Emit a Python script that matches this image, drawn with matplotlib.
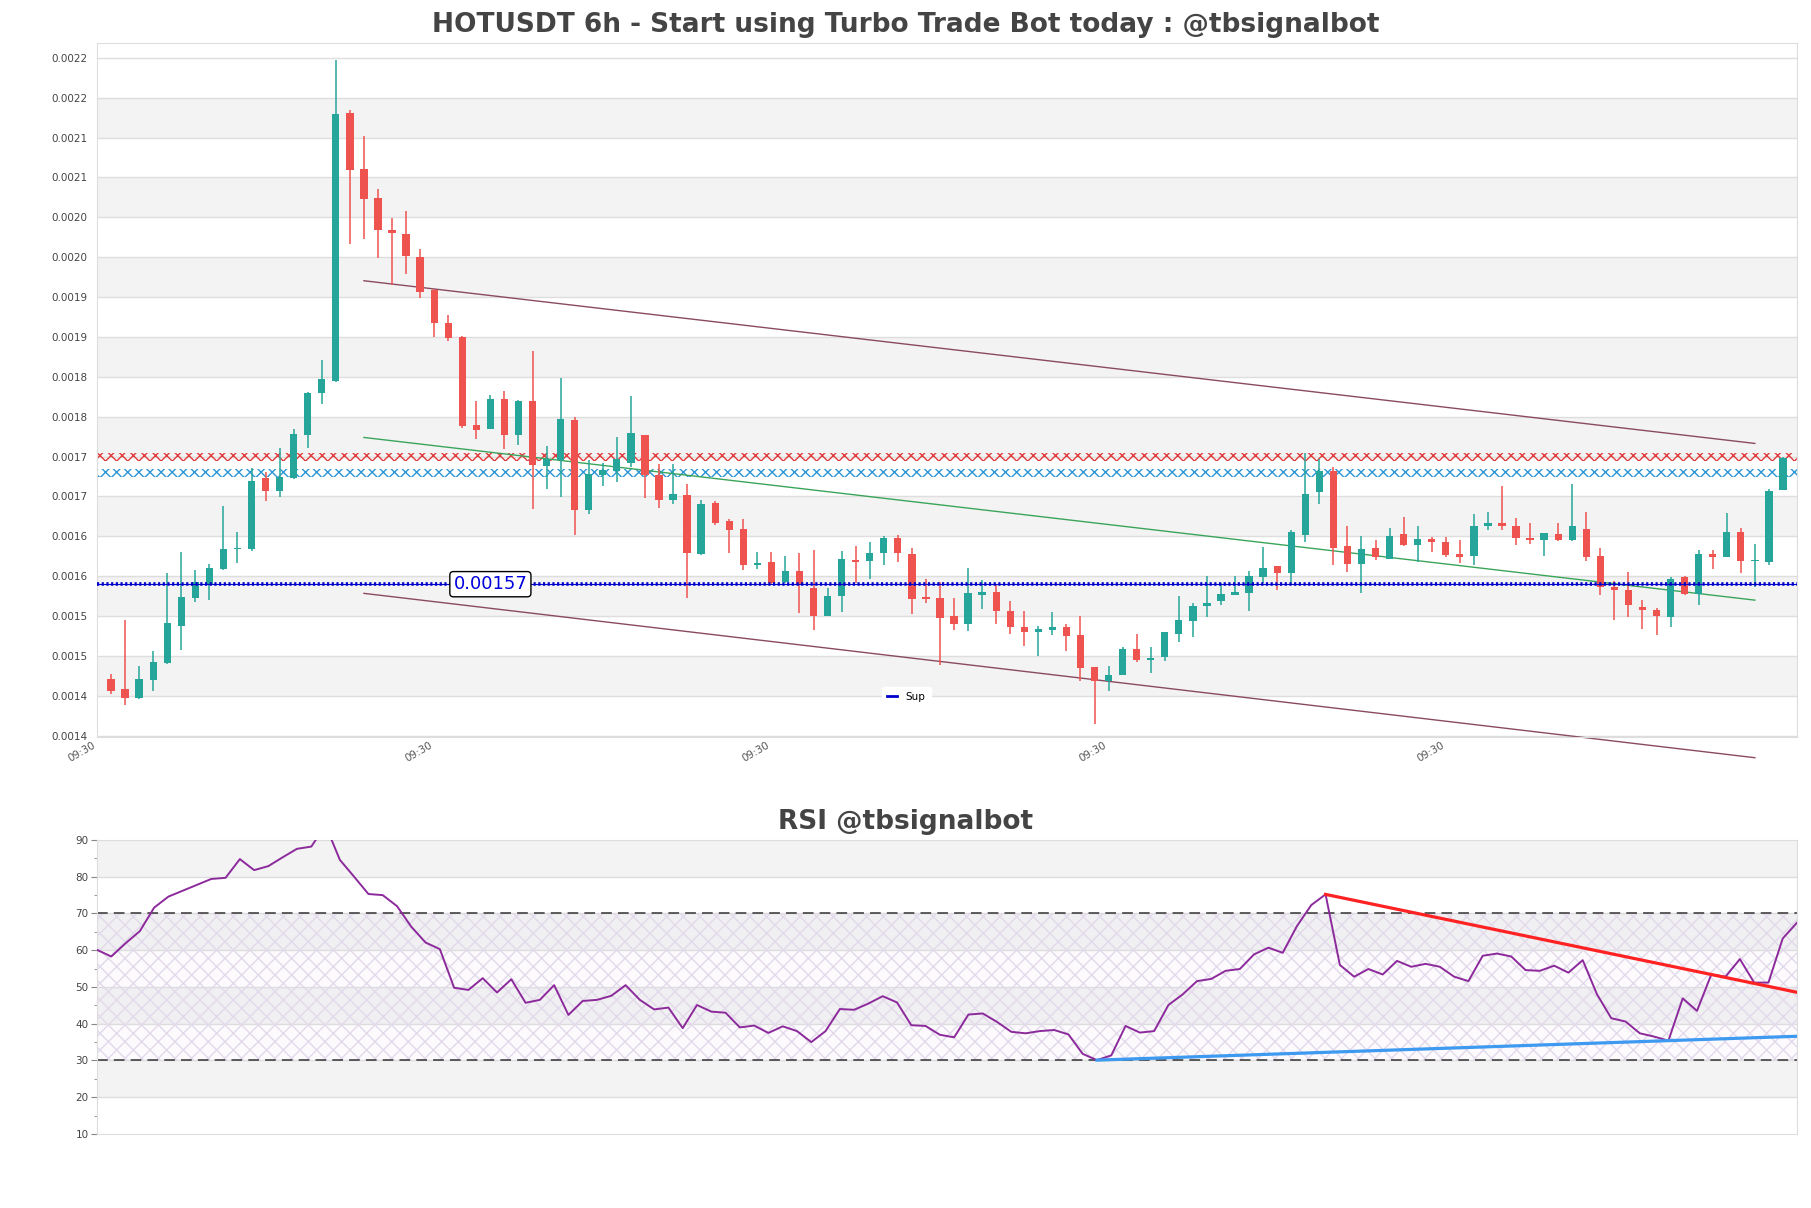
import numpy as np
import matplotlib.pyplot as plt
from matplotlib.lines import Line2D

# OHLC, 6h candles (HOTUSDT)
opens = [0.0014514, 0.0014381, 0.0014279, 0.0014504, 0.0014707, 0.0015178, 0.0015526, 0.0015708, 0.0015890, 0.0016136,
         0.0016147, 0.0017030, 0.0016870, 0.0017036, 0.0017566, 0.0018101, 0.0018246, 0.0021613, 0.0020901, 0.0020537,
         0.0020141, 0.0020090, 0.0019800, 0.0019390, 0.0018970, 0.0018795, 0.0017700, 0.0017645, 0.0018025, 0.0017570,
         0.0017995, 0.0017185, 0.0017255, 0.0017755, 0.0016630, 0.0017075, 0.0017115, 0.0017215, 0.0017575, 0.0017065,
         0.0016755, 0.0016815, 0.0016080, 0.0016720, 0.0016495, 0.0016390, 0.0015945, 0.0015980, 0.0015730, 0.0015870,
         0.0015655, 0.0015305, 0.0015555, 0.0016005, 0.0015985, 0.0016085, 0.0016280, 0.0016080, 0.0015545, 0.0015530,
         0.0015295, 0.0015195, 0.0015570, 0.0015600, 0.0015360, 0.0015165, 0.0015105, 0.0015120, 0.0015165, 0.0015065,
         0.0014660, 0.0014485, 0.0014565, 0.0014890, 0.0014755, 0.0014785, 0.0015070, 0.0015235, 0.0015425, 0.0015485,
         0.0015570, 0.0015595, 0.0015795, 0.0015925, 0.0015845, 0.0016320, 0.0016850, 0.0017120, 0.0016185, 0.0015955,
         0.0016155, 0.0016020, 0.0016330, 0.0016195, 0.0016265, 0.0016235, 0.0016075, 0.0016050, 0.0016435, 0.0016465,
         0.0016435, 0.0016280, 0.0016255, 0.0016330, 0.0016255, 0.0016390, 0.0016050, 0.0015670, 0.0015625, 0.0015420,
         0.0015375, 0.0015290, 0.0015785, 0.0015580, 0.0016075, 0.0016035, 0.0016350, 0.0015990, 0.0015975, 0.0016885]
highs = [0.0014568, 0.0015253, 0.0014675, 0.0014862, 0.0015837, 0.0016099, 0.0015879, 0.0015949, 0.0016677, 0.0016351,
         0.0017154, 0.0017105, 0.0017411, 0.0017651, 0.0018112, 0.0018508, 0.0022271, 0.0021650, 0.0021324, 0.0020660,
         0.0020291, 0.0020380, 0.0019900, 0.0019400, 0.0019075, 0.0018815, 0.0017995, 0.0018070, 0.0018120, 0.0018015,
         0.0018620, 0.0017430, 0.0018290, 0.0017800, 0.0017255, 0.0017220, 0.0017545, 0.0018055, 0.0017575, 0.0017210,
         0.0017210, 0.0016955, 0.0016750, 0.0016740, 0.0016520, 0.0016515, 0.0016105, 0.0016105, 0.0016050, 0.0016090,
         0.0016125, 0.0015655, 0.0016120, 0.0016185, 0.0016230, 0.0016310, 0.0016315, 0.0016155, 0.0015770, 0.0015730,
         0.0015525, 0.0015905, 0.0015755, 0.0015705, 0.0015485, 0.0015360, 0.0015180, 0.0015350, 0.0015195, 0.0015300,
         0.0014660, 0.0014670, 0.0014915, 0.0015075, 0.0014910, 0.0015100, 0.0015550, 0.0015465, 0.0015800, 0.0015715,
         0.0015800, 0.0015860, 0.0016165, 0.0015925, 0.0016380, 0.0017345, 0.0017270, 0.0017165, 0.0016425, 0.0016300,
         0.0016250, 0.0016405, 0.0016540, 0.0016425, 0.0016290, 0.0016290, 0.0016250, 0.0016585, 0.0016605, 0.0016925,
         0.0016535, 0.0016465, 0.0016340, 0.0016465, 0.0016955, 0.0016610, 0.0016155, 0.0015735, 0.0015850, 0.0015505,
         0.0015400, 0.0015790, 0.0015805, 0.0016125, 0.0016130, 0.0016590, 0.0016405, 0.0016205, 0.0016890, 0.0017290]
lows = [0.0014322, 0.0014188, 0.0014257, 0.0014359, 0.0014696, 0.0014878, 0.0015478, 0.0015505, 0.0015879, 0.0015970,
        0.0016110, 0.0016741, 0.0016795, 0.0017025, 0.0017405, 0.0017962, 0.0018230, 0.0019964, 0.0020028, 0.0019793,
        0.0019455, 0.0019590, 0.0019290, 0.0018800, 0.0018750, 0.0017660, 0.0017520, 0.0017640, 0.0017390, 0.0017440,
        0.0016640, 0.0016890, 0.0016795, 0.0016315, 0.0016580, 0.0016935, 0.0016985, 0.0017170, 0.0016780, 0.0016650,
        0.0016705, 0.0015530, 0.0016070, 0.0016445, 0.0016090, 0.0015880, 0.0015895, 0.0015705, 0.0015715, 0.0015340,
        0.0015120, 0.0015295, 0.0015350, 0.0015715, 0.0015765, 0.0015945, 0.0015980, 0.0015325, 0.0015465, 0.0014685,
        0.0015130, 0.0015110, 0.0015395, 0.0015200, 0.0015070, 0.0014920, 0.0014795, 0.0015060, 0.0014860, 0.0014485,
        0.0013950, 0.0014360, 0.0014560, 0.0014720, 0.0014585, 0.0014740, 0.0014970, 0.0015035, 0.0015285, 0.0015435,
        0.0015560, 0.0015360, 0.0015715, 0.0015630, 0.0015685, 0.0016225, 0.0016710, 0.0015945, 0.0015850, 0.0015595,
        0.0016000, 0.0016015, 0.0016175, 0.0015975, 0.0016100, 0.0016035, 0.0015965, 0.0015935, 0.0016380, 0.0016380,
        0.0016195, 0.0016205, 0.0016055, 0.0016245, 0.0016245, 0.0015985, 0.0015560, 0.0015255, 0.0015285, 0.0015140,
        0.0015060, 0.0015160, 0.0015560, 0.0015440, 0.0015895, 0.0016035, 0.0015840, 0.0015670, 0.0015945, 0.0016885]
closes = [0.0014364, 0.0014279, 0.0014509, 0.0014723, 0.0015210, 0.0015537, 0.0015724, 0.0015901, 0.0016142, 0.0016158,
          0.0016993, 0.0016870, 0.0017041, 0.0017582, 0.0018101, 0.0018267, 0.0021602, 0.0020890, 0.0020531, 0.0020141,
          0.0020103, 0.0019810, 0.0019365, 0.0018970, 0.0018790, 0.0017680, 0.0017630, 0.0018025, 0.0017570, 0.0017995,
          0.0017190, 0.0017275, 0.0017770, 0.0016630, 0.0017085, 0.0017135, 0.0017265, 0.0017600, 0.0017075, 0.0016755,
          0.0016825, 0.0016085, 0.0016710, 0.0016465, 0.0016385, 0.0015945, 0.0015965, 0.0015715, 0.0015870, 0.0015685,
          0.0015305, 0.0015550, 0.0016010, 0.0015975, 0.0016090, 0.0016285, 0.0016085, 0.0015520, 0.0015510, 0.0015275,
          0.0015195, 0.0015590, 0.0015600, 0.0015370, 0.0015160, 0.0015105, 0.0015135, 0.0015165, 0.0015055, 0.0014655,
          0.0014490, 0.0014560, 0.0014890, 0.0014755, 0.0014775, 0.0015100, 0.0015250, 0.0015425, 0.0015460, 0.0015575,
          0.0015600, 0.0015800, 0.0015900, 0.0015845, 0.0016350, 0.0016830, 0.0017120, 0.0016160, 0.0015955, 0.0016135,
          0.0016035, 0.0016300, 0.0016195, 0.0016265, 0.0016225, 0.0016070, 0.0016035, 0.0016435, 0.0016465, 0.0016435,
          0.0016285, 0.0016260, 0.0016340, 0.0016255, 0.0016425, 0.0016045, 0.0015670, 0.0015630, 0.0015435, 0.0015380,
          0.0015305, 0.0015760, 0.0015580, 0.0016075, 0.0016035, 0.0016355, 0.0015995, 0.0016000, 0.0016870, 0.0017280]

rsi = [60.1, 58.3, 61.9, 65.2, 71.6, 74.6, 76.2, 77.8, 79.4, 79.7, 84.8, 81.8, 82.9, 85.3, 87.6, 88.2,
       94.0, 84.6, 80.0, 75.3, 75.0, 72.0, 66.4, 62.1, 60.3, 49.8, 49.2, 52.4, 48.5, 52.1, 45.7, 46.5,
       50.5, 42.4, 46.2, 46.5, 47.6, 50.5, 46.5, 43.9, 44.4, 38.8,
       45.1, 43.3, 43.0, 39.0, 39.5, 37.5, 39.3, 38.0, 35.0, 38.0, 44.0, 43.8, 45.5, 47.5, 45.8, 39.6,
       39.4, 37.0, 36.3, 42.5, 42.8, 40.5, 37.8, 37.4, 38.0, 38.3, 37.1, 31.8, 30.1, 31.4, 39.4, 37.6, 38.0,
       45.1, 48.0, 51.6, 52.2, 54.4, 54.9, 58.9, 60.7, 59.3, 66.6, 72.3, 75.2, 56.0, 52.8, 54.9, 53.4,
       57.1, 55.5, 56.3, 55.5, 52.8, 51.6, 58.5, 59.1, 58.3, 54.6, 54.4, 55.8, 53.9, 57.3, 48.0, 41.5,
       40.6, 37.4, 36.5, 35.4, 46.9, 43.5, 53.4, 52.8, 57.6, 51.2, 51.2, 63.2, 67.5]

# levels / trend lines
sup_level = 0.00157
res_band_red = (0.001725, 0.001735)
res_band_blue = (0.001705, 0.001715)
chan_x = [19, 118]
chan_upper = [0.0019505, 0.0017465]
chan_mid = [0.001754, 0.00155]
chan_lower = [0.0015585, 0.0013524]
rsi_res_pivots = [86, 113]
rsi_sup_pivots = [70, 110]
xtick_pos = [0, 24, 48, 72, 96]
xtick_lab = ['09:30'] * 5

opens = np.array(opens); highs = np.array(highs)
lows = np.array(lows); closes = np.array(closes)
rsi = np.array(rsi)
x = np.arange(1, len(opens) + 1)

plt.rcParams['hatch.linewidth'] = 1.0

fig = plt.figure(figsize=(18.11, 12.08), dpi=100)
ax = fig.add_axes([0.05356, 0.38965, 0.93871, 0.5750])
ax2 = fig.add_axes([0.05356, 0.06126, 0.93871, 0.24338])

# ---- price panel ----
yt = 0.00138 + 0.00005 * np.arange(18)
for k in range(1, 17, 2):
    ax.axhspan(yt[k], yt[k + 1], color='#f3f3f3', lw=0, zorder=0)
for t in yt:
    ax.axhline(t, color='#dedede', lw=1, zorder=0.5)

ax.axhspan(*res_band_red, facecolor='none', edgecolor='#e23b3b', hatch='xxx', lw=0, zorder=1.5)
ax.axhspan(*res_band_blue, facecolor='none', edgecolor='#2b95d6', hatch='xxx', lw=0, zorder=1.5)

ax.plot(chan_x, chan_upper, color='#8a4a62', lw=1, zorder=2)
ax.plot(chan_x, chan_mid, color='#3aa55a', lw=1, zorder=2)
ax.plot(chan_x, chan_lower, color='#8a4a62', lw=1, zorder=2, clip_on=False)

up = closes >= opens
cols = np.where(up, '#26a69a', '#ef5350')
ax.vlines(x, lows, highs, colors=cols, lw=1.1, zorder=3)
ax.bar(x, np.maximum(np.abs(closes - opens), 1.5e-6), bottom=np.minimum(opens, closes),
       width=0.52, color=cols, zorder=4)

ax.axhline(sup_level, color='#0000cc', lw=0.8, zorder=5)
ax.axhline(sup_level, color='#0000cc', lw=2.6, ls=(0, (0.6, 0.7)), zorder=5)
ax.text(28, sup_level, f'{sup_level}', fontsize=13, color='#0000dd', ha='center', va='center',
        zorder=6, bbox=dict(boxstyle='round,pad=0.2', fc='white', ec='black', lw=1))

ax.legend([Line2D([], [], color='#0000cc', lw=2)], ['Sup'], loc='center',
          bbox_to_anchor=(0.476, 0.058), fontsize=7.5, facecolor='white', edgecolor='white',
          framealpha=1, handlelength=1.0, borderpad=0.5)

ax.set_xlim(0, 121)
ax.set_ylim(0.001378, 0.002249)
ax.set_yticks(yt)
ax.set_yticklabels([f'{t:.4f}' for t in yt])
ax.set_xticks(xtick_pos)
ax.set_xticklabels(xtick_lab, rotation=30, ha='right')
ax.tick_params(axis='y', length=0, labelsize=7.5, labelcolor='#444444', pad=7)
ax.tick_params(axis='x', length=0, labelsize=7.5, labelcolor='#555555', pad=2)
for s in ax.spines.values():
    s.set_color('#dddddd')

# ---- RSI panel ----
xr = np.arange(len(rsi))
for lo in [20, 40, 60, 80]:
    ax2.axhspan(lo, lo + 10, color='#f3f3f3', lw=0, zorder=0)
for t in range(20, 90, 10):
    ax2.axhline(t, color='#dedede', lw=1, zorder=0.5)
ax2.axhspan(30, 70, facecolor=(0.85, 0.78, 0.92, 0.08), edgecolor='#e2d9ea', hatch='xx', lw=0, zorder=0.8)
ax2.axhline(70, color='#333333', lw=1.1, ls=(0, (7, 4)), zorder=1)
ax2.axhline(30, color='#333333', lw=1.1, ls=(0, (7, 4)), zorder=1)

ax2.plot(xr, rsi, color='#8c2a9c', lw=1.4, zorder=3)

for piv, col in [(rsi_res_pivots, '#ff2222'), (rsi_sup_pivots, '#3d9af0')]:
    m, b = np.polyfit(piv, rsi[piv], 1)
    xx = np.array([piv[0], xr[-1]])
    ax2.plot(xx, m * xx + b, color=col, lw=2.3, zorder=4)

ax2.set_xlim(0, len(rsi) - 1)
ax2.set_ylim(10, 90)
ax2.set_xticks([])
ax2.set_yticks(range(10, 91, 10))
ax2.set_yticks(range(15, 90, 10), minor=True)
ax2.tick_params(axis='y', which='major', length=4, color='#888888', labelsize=7.5,
                labelcolor='#444444', pad=2)
ax2.tick_params(axis='y', which='minor', length=2, color='#888888')
for s in ax2.spines.values():
    s.set_color('#dddddd')

fig.text(0.5, 0.9738, 'HOTUSDT 6h - Start using Turbo Trade Bot today : @tbsignalbot',
         ha='center', va='baseline', fontsize=19, fontweight='bold', color='#444444')
fig.text(0.5, 0.3137, 'RSI @tbsignalbot', ha='center', va='baseline', fontsize=19,
         fontweight='bold', color='#444444')

fig.savefig('out.png', dpi=100)
